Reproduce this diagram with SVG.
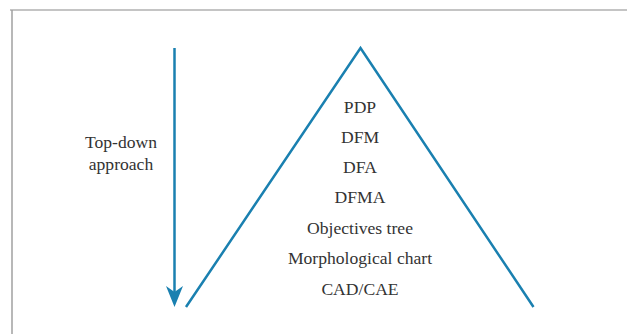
<svg xmlns="http://www.w3.org/2000/svg" width="627" height="334" viewBox="0 0 627 334">
<defs>
<style>
.t{font-family:"Liberation Serif","Times New Roman",serif;font-size:17.6px;fill:#333;text-anchor:middle}
.b{stroke:#1a80b0;stroke-width:2.5;fill:none}
</style>
</defs>
<rect x="0" y="0" width="627" height="334" fill="#fff"/>
<g id="frame">
<line x1="10" y1="10" x2="627" y2="10" stroke="#c4c4c4" stroke-width="2"/>
<line x1="12" y1="10" x2="12" y2="334" stroke="#a0a0a0" stroke-width="1.5"/>
</g>
<g id="connectors">
<line x1="174.5" y1="48" x2="174.5" y2="292" class="b"/>
<path d="M166,286 L174.5,292 L183,286 L174.5,307 Z" fill="#1a80b0"/>
<polyline points="186,307 360.5,48 533.5,307" class="b"/>
</g>
<g id="label-topdown">
<text class="t" x="121" y="148">Top-down</text>
<text class="t" x="121" y="170">approach</text>
</g>
<g id="node-list">
<text class="t" x="360" y="113">PDP</text>
<text class="t" x="360" y="143">DFM</text>
<text class="t" x="360" y="173">DFA</text>
<text class="t" x="360" y="203">DFMA</text>
<text class="t" x="360" y="234">Objectives tree</text>
<text class="t" x="360" y="264">Morphological chart</text>
<text class="t" x="360" y="295">CAD/CAE</text>
</g>
</svg>
